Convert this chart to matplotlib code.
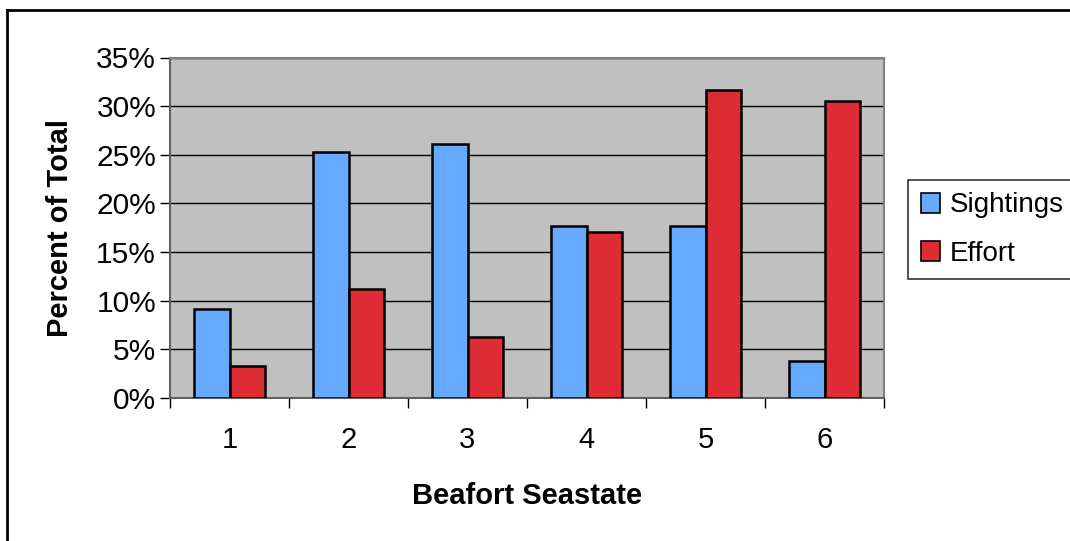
import matplotlib
matplotlib.use("Agg")
import matplotlib.pyplot as plt
import numpy as np
from matplotlib.lines import Line2D

plt.rcParams['font.family'] = ['Liberation Sans', 'DejaVu Sans']

categories = ["1", "2", "3", "4", "5", "6"]
sightings = [9.1, 25.3, 26.1, 17.7, 17.7, 3.8]
effort = [3.3, 11.2, 6.3, 17.1, 31.7, 30.5]
yticks = [0, 5, 10, 15, 20, 25, 30, 35]
ytick_labels = ["0%", "5%", "10%", "15%", "20%", "25%", "30%", "35%"]

W, H = 1070, 541
fig = plt.figure(figsize=(W / 100, H / 100), dpi=100)
fig.patch.set_facecolor("white")

ax = fig.add_axes([170 / W, 1 - 398 / H, (884 - 170) / W, (398 - 57.5) / H])
ax.set_facecolor("#C0C0C0")

x = np.arange(len(categories))
bw = 0.295
ax.bar(x - bw / 2, sightings, bw, color="#66AAFF", edgecolor="black", linewidth=1.8, zorder=3, label="Sightings")
ax.bar(x + bw / 2, effort, bw, color="#DD2C33", edgecolor="black", linewidth=1.8, zorder=3, label="Effort")

ax.set_xlim(-0.5, len(categories) - 0.5)
ax.set_ylim(0, 35)
ax.set_yticks(yticks)
ax.set_yticklabels(ytick_labels, fontsize=21.5)
ax.set_xticks(x)
ax.set_xticklabels(categories, fontsize=21)
ax.set_xticks(np.arange(len(categories) + 1) - 0.5, minor=True)
ax.tick_params(axis='x', which='major', length=0, pad=20)
ax.tick_params(axis='x', which='minor', length=7, width=1, color="black")
ax.tick_params(axis='y', length=7, width=1, pad=3)

ax.yaxis.grid(True, color="black", linewidth=1, zorder=1)
ax.set_axisbelow(True)

for s in ["top", "right"]:
    ax.spines[s].set_color("#808080")
    ax.spines[s].set_linewidth(1.5)
ax.spines["left"].set_color("#606060")
ax.spines["left"].set_linewidth(1.5)
ax.spines["bottom"].set_color("#606060")
ax.spines["bottom"].set_linewidth(1.5)

ax.set_ylabel("Percent of Total", fontsize=21, fontweight="bold", labelpad=16)
ax.set_xlabel("Beafort Seastate", fontsize=21, fontweight="bold", labelpad=20)

# legend
handles = [
    plt.Rectangle((0, 0), 1, 1, facecolor="#66AAFF", edgecolor="black", linewidth=1.2),
    plt.Rectangle((0, 0), 1, 1, facecolor="#DD2C33", edgecolor="black", linewidth=1.2),
]
leg = fig.legend(handles, ["Sightings", "Effort"], loc="upper left",
                 bbox_to_anchor=(908 / W, 1 - 180 / H), fontsize=20,
                 frameon=True, fancybox=False, edgecolor="black",
                 handlelength=0.7, handleheight=0.7, handletextpad=0.35,
                 borderpad=0.45, labelspacing=0.8, borderaxespad=0)
leg.get_frame().set_linewidth(1.2)

# outer chart frame
fig.add_artist(Line2D([7 / W, 1.0], [1 - 10 / H, 1 - 10 / H], color="black", linewidth=2, transform=fig.transFigure))
fig.add_artist(Line2D([7 / W, 7 / W], [1 - 10 / H, 0], color="black", linewidth=2, transform=fig.transFigure))

fig.savefig("out.png", dpi=100)
